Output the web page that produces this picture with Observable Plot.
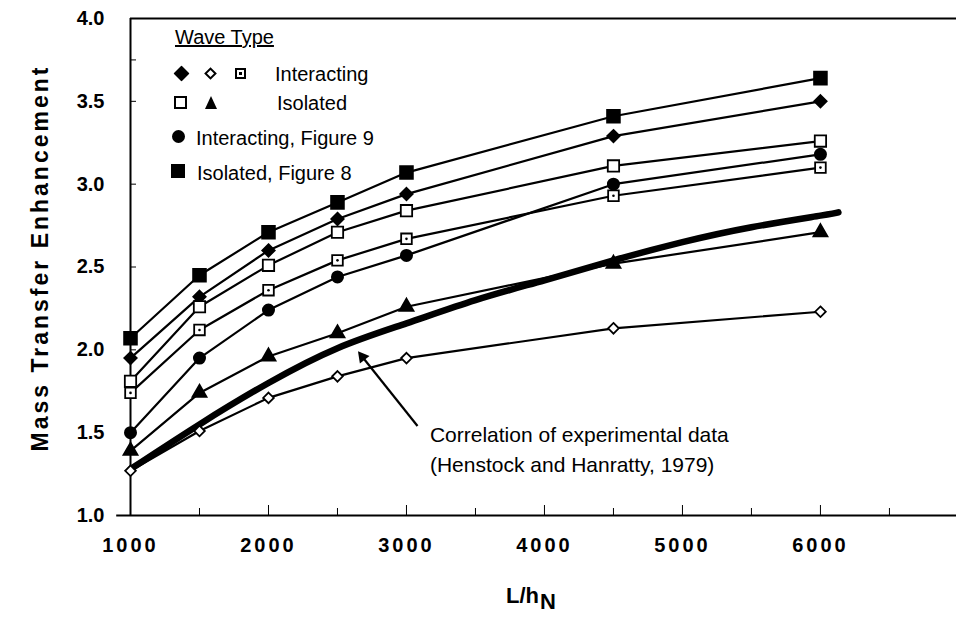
<!DOCTYPE html>
<html>
<head>
<meta charset="utf-8">
<script src="https://cdn.jsdelivr.net/npm/d3@7"></script>
<script src="https://cdn.jsdelivr.net/npm/@observablehq/plot@0.6"></script>
<style>
  html, body { margin: 0; padding: 0; background: #fff; }
  #fig { position: relative; width: 956px; height: 617px; overflow: hidden;
         font-family: "Liberation Sans", Arial, Helvetica, sans-serif; color: #000; }
  #fig svg { position: absolute; left: 0; top: 0; }
  #fig svg text { font-family: "Liberation Sans", Arial, Helvetica, sans-serif; }
  g[aria-label="y-axis tick label"] text,
  g[aria-label="x-axis tick label"] text { font-weight: bold; }
  g[aria-label="x-axis tick label"] text { letter-spacing: 3px; }
  g[aria-label="annotation"] text { letter-spacing: 1.3px; }
  .lbl { position: absolute; white-space: nowrap; line-height: 1; }
  .legend { font-size: 20px; }
  .sym { position: absolute; box-sizing: border-box; }
  #ytitle { position: absolute; left: 40px; top: 258px; white-space: nowrap;
            transform: translate(-50%, -50%) rotate(-90deg);
            font-weight: bold; font-size: 23px; letter-spacing: 3px; }
  #xtitle { position: absolute; left: 506px; top: 585px; white-space: nowrap;
            font-weight: bold; font-size: 22px; line-height: 1; }
  #xtitle sub { font-size: 22px; vertical-align: -6px; margin-left: 1px; line-height: 1; }
</style>
</head>
<body>
<div id="fig"></div>
<script>
// L/hN values where the wave calculations were made
const lengths = [1000, 1500, 2000, 2500, 3000, 4500, 6000];

// Mass transfer enhancement for each wave type
const isolatedFig8     = [2.07, 2.45, 2.71, 2.89, 3.07, 3.41, 3.64];
const interactingSolid = [1.95, 2.32, 2.60, 2.79, 2.94, 3.29, 3.50];
const isolatedSquare   = [1.81, 2.26, 2.51, 2.71, 2.84, 3.11, 3.26];
const interactingDot   = [1.74, 2.12, 2.36, 2.54, 2.67, 2.93, 3.10];
const interactingFig9  = [1.50, 1.95, 2.24, 2.44, 2.57, 3.00, 3.18];
const isolatedTriangle = [1.39, 1.74, 1.96, 2.10, 2.26, 2.52, 2.71];
const interactingOpen  = [1.27, 1.51, 1.71, 1.84, 1.95, 2.13, 2.23];

// Correlation of experimental data (Henstock and Hanratty, 1979)
const corrLengths = [1000, 1500, 2000, 2500, 3000, 3500, 4000, 4500, 5000, 5500, 6000, 6130];
const corrValues  = [1.28, 1.55, 1.80, 2.01, 2.16, 2.30, 2.42, 2.54, 2.65, 2.74, 2.81, 2.83];

// Axis ticks
const xLabelTicks = [1000, 2000, 3000, 4000, 5000, 6000];
const xMajorTicks = [2000, 3000, 4000, 5000, 6000];
const xMinorTicks = [1500, 2500, 3500, 4500, 5500, 6500];
const yLabelTicks = [1.0, 1.5, 2.0, 2.5, 3.0, 3.5, 4.0];
const yMinorTicks = [1.5, 2.0, 2.5, 3.0, 3.5, 3.75];

const annotationText = "Correlation of experimental data\n(Henstock and Hanratty, 1979)";

// Series styles: symbol, fill, radius
const series = [
  {name: "Isolated, Figure 8",    values: isolatedFig8,     symbol: "square",   fill: "black", r: 7.2},
  {name: "Interacting (solid)",   values: interactingSolid, symbol: "diamond2", fill: "black", r: 5.6},
  {name: "Isolated (open)",       values: isolatedSquare,   symbol: "square",   fill: "white", r: 6.4},
  {name: "Interacting, Figure 9", values: interactingFig9,  symbol: "circle",   fill: "black", r: 5.6},
  {name: "Interacting (dotted)",  values: interactingDot,   symbol: "square",   fill: "white", r: 6.0},
  {name: "Isolated (triangle)",   values: isolatedTriangle, symbol: "triangle", fill: "black", r: 5.2},
  {name: "Interacting (open)",    values: interactingOpen,  symbol: "diamond2", fill: "white", r: 4.8}
];

const rows = series.map(s => lengths.map((L, i) => ({L, v: s.values[i], name: s.name})));
const corr = corrLengths.map((L, i) => ({L, v: corrValues[i]}));

const lineMarks = rows.map(d => Plot.line(d, {x: "L", y: "v", stroke: "black", strokeWidth: 2.2}));
const dotMarks = series.map((s, k) => Plot.dot(rows[k], {
  x: "L", y: "v", symbol: s.symbol, fill: s.fill, stroke: "black", strokeWidth: 1.8, r: s.r
}));
const centerDots = Plot.dot(rows[series.findIndex(s => s.values === interactingDot)],
  {x: "L", y: "v", r: 1.3, fill: "black"});

// leader from the label to the curve, ending in a filled head
const leader = [{x1: 3080, y1: 1.54, x2: 2681, y2: 1.957}];

const chart = Plot.plot({
  width: 956,
  height: 617,
  marginLeft: 130,
  marginRight: 0,
  marginTop: 18,
  marginBottom: 102,
  style: {fontSize: "20px", background: "white", color: "black"},
  x: {domain: [1000, 6986], axis: null},
  y: {domain: [1, 4], axis: null},
  marks: [
    // frame: left, bottom and top rules
    Plot.ruleX([1000], {strokeWidth: 2}),
    Plot.ruleY([1], {strokeWidth: 2.2, x1: 900, x2: 6986}),
    Plot.ruleY([4], {strokeWidth: 1.8, x1: 1000, x2: 6986}),
    // ticks drawn inward
    Plot.axisX({ticks: xMajorTicks, tickSize: -10, tickFormat: () => "", label: null}),
    Plot.axisX({ticks: xMinorTicks, tickSize: -7, tickFormat: () => "", label: null}),
    Plot.axisX({ticks: xLabelTicks, tickSize: 0, tickPadding: 22, tickFormat: d3.format("d"), label: null}),
    Plot.axisY({ticks: yMinorTicks, tickSize: -6, tickFormat: () => "", label: null}),
    Plot.axisY({ticks: yLabelTicks, tickSize: 0, tickPadding: 26, tickFormat: d3.format(".1f"), label: null}),
    // correlation curve
    Plot.line(corr, {x: "L", y: "v", stroke: "black", strokeWidth: 6.5, curve: "natural"}),
    ...lineMarks,
    ...dotMarks,
    centerDots,
    // annotation with arrow pointing at the correlation curve
    Plot.link(leader, {x1: "x1", y1: "y1", x2: "x2", y2: "y2", stroke: "black", strokeWidth: 2.2}),
    Plot.dot(leader, {x: "x2", y: "y2", symbol: "triangle", r: 4.6, fill: "black", rotate: -38.7}),
    Plot.text([annotationText], {
      x: 3170, y: 1.41, text: d => d, textAnchor: "start", lineAnchor: "middle",
      fontSize: 21, lineHeight: 1.42, fill: "black", ariaLabel: "annotation"
    })
  ]
});

const fig = document.getElementById("fig");
fig.appendChild(chart);

// Legend
function addText(txt, left, cy, cls, extra) {
  const el = document.createElement("div");
  el.className = "lbl " + cls;
  el.textContent = txt;
  el.style.left = left + "px";
  el.style.top = (cy - 10) + "px";
  if (extra) Object.assign(el.style, extra);
  fig.appendChild(el);
}
function addSym(kind, cx, cy, size, filled) {
  const el = document.createElement("div");
  el.className = "sym";
  if (kind === "triangle") {
    Object.assign(el.style, {
      left: (cx - size / 2) + "px", top: (cy - size / 2) + "px", width: 0, height: 0,
      borderLeft: (size / 2) + "px solid transparent", borderRight: (size / 2) + "px solid transparent",
      borderBottom: size + "px solid black"
    });
  } else {
    Object.assign(el.style, {
      left: (cx - size / 2) + "px", top: (cy - size / 2) + "px",
      width: size + "px", height: size + "px",
      background: filled ? "black" : "white", border: "2px solid black"
    });
    if (kind === "diamond") el.style.transform = "rotate(45deg)";
    if (kind === "circle") el.style.borderRadius = "50%";
    if (kind === "dotsquare") {
      const d = document.createElement("div");
      Object.assign(d.style, {position: "absolute", left: (size / 2 - 3.5) + "px", top: (size / 2 - 3.5) + "px",
        width: "3px", height: "3px", background: "black"});
      el.appendChild(d);
    }
  }
  fig.appendChild(el);
}
addText("Wave Type", 175, 37, "legend", {textDecoration: "underline"});
addSym("diamond", 181, 73, 11, true);
addSym("diamond", 210, 73, 9, false);
addSym("dotsquare", 240, 73, 11, false);
addText("Interacting", 275, 74, "legend");
addSym("square", 180, 102, 13, false);
addSym("triangle", 211, 102, 13, true);
addText("Isolated", 277, 103, "legend");
addSym("circle", 178, 136, 13, true);
addText("Interacting, Figure 9", 196, 138, "legend");
addSym("square", 178, 171, 14, true);
addText("Isolated, Figure 8", 197, 173, "legend");

// Axis titles
const yt = document.createElement("div");
yt.id = "ytitle";
yt.textContent = "Mass Transfer Enhancement";
fig.appendChild(yt);
const xt = document.createElement("div");
xt.id = "xtitle";
xt.innerHTML = "L/h<sub>N</sub>";
fig.appendChild(xt);
</script>
</body>
</html>
